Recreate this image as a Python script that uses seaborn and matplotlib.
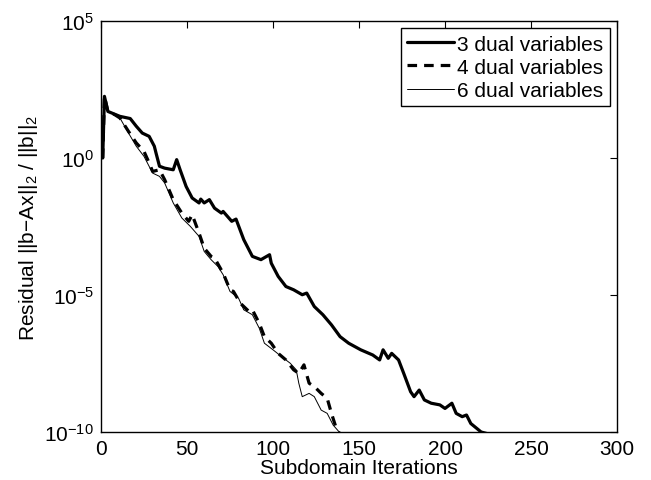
import numpy as np
import pandas as pd
import matplotlib
matplotlib.use("Agg")
import matplotlib.pyplot as plt
import matplotlib.ticker as mticker
import seaborn as sns

# ---- data (residual given as log10 exponent) ----
it_3 = [1, 2, 4, 11, 17, 20.5, 24, 28, 31, 32, 34, 37, 42, 44, 46, 49.5, 53, 57, 58, 60, 63,
        66, 70, 71, 76, 78.5, 83, 88, 93, 98, 99, 103, 107.5, 112, 117, 119.6, 124, 129, 134,
        139, 144, 151, 158, 162, 164, 167, 169, 173, 176, 180, 182, 185, 188, 192, 197, 200,
        204, 206.5, 210, 212.5, 215, 218.5, 221, 227]
log_3 = [0.0, 2.25, 1.70, 1.52, 1.44, 1.16, 0.91, 0.79, 0.43, 0.18, -0.30, -0.37, -0.43, -0.06,
         -0.43, -1.04, -1.46, -1.64, -1.50, -1.64, -1.52, -1.83, -2.01, -1.95, -2.31, -2.23,
         -2.98, -3.59, -3.71, -3.53, -3.84, -4.32, -4.69, -4.81, -4.99, -4.93, -5.42, -5.72,
         -6.09, -6.52, -6.76, -7.00, -7.19, -7.37, -7.00, -7.31, -7.13, -7.37, -7.86, -8.53,
         -8.71, -8.47, -8.83, -8.95, -9.01, -9.14, -8.95, -9.32, -9.44, -9.38, -9.69, -9.87,
         -10.0, -10.1]

it_4 = [1, 2, 4, 8, 11, 16, 20.5, 25, 28, 30, 34, 37, 42, 47, 51, 53, 57, 60, 64, 66, 71, 75,
        77, 81, 86, 88, 92, 95, 99, 103, 107.5, 112, 115, 118, 121, 124, 128, 131.5, 134,
        136.5, 140]
log_4 = [0.0, 2.25, 1.70, 1.58, 1.46, 0.97, 0.55, 0.24, -0.18, -0.49, -0.43, -0.79, -1.52,
         -2.01, -2.31, -2.07, -2.74, -3.29, -3.59, -3.65, -4.20, -4.81, -4.87, -5.30, -5.60,
         -5.54, -6.03, -6.52, -6.76, -7.13, -7.37, -7.73, -7.86, -7.55, -8.22, -8.34, -8.59,
         -8.77, -9.32, -9.81, -10.2]

it_6 = [1, 2, 4, 8, 11, 16, 20.5, 25, 30, 34, 37, 42, 47, 52, 57, 60, 64, 68, 71, 75, 80, 83,
        88, 92, 95, 100, 105, 110, 113.5, 115, 117, 121, 124, 128, 131.5, 135, 138.5, 140]
log_6 = [0.0, 2.25, 1.70, 1.58, 1.46, 0.91, 0.43, 0.06, -0.55, -0.67, -0.91, -1.64, -2.19,
         -2.50, -2.86, -3.41, -3.71, -3.96, -4.26, -4.87, -5.12, -5.54, -5.72, -6.21, -6.76,
         -7.00, -7.25, -7.49, -7.73, -8.22, -8.71, -8.59, -8.71, -9.20, -9.32, -9.75, -10.0,
         -10.2]

labels = ["3 dual variables", "4 dual variables", "6 dual variables"]
x_ticks = [0, 50, 100, 150, 200, 250, 300]
y_ticks = [1e-10, 1e-5, 1e0, 1e5]

# ---- style ----
sns.set_theme(style="white")
plt.rcParams["font.family"] = ["Liberation Sans", "DejaVu Sans"]
plt.rcParams["mathtext.fontset"] = "custom"
plt.rcParams["mathtext.rm"] = "Liberation Sans"
plt.rcParams["mathtext.it"] = "Liberation Sans"
plt.rcParams["mathtext.default"] = "regular"

fig = plt.figure(figsize=(6.51, 4.81), dpi=100)
ax = fig.add_axes([101 / 651, 1 - 433 / 481, (617 - 101) / 651, (433 - 22) / 481])

series = [(it_3, log_3, 2.3, "-"), (it_4, log_4, 2.3, (0, (3.0, 2.2))), (it_6, log_6, 0.7, "-")]
for (xs, ls, lw, style), lab in zip(series, labels):
    df = pd.DataFrame({"it": xs, "res": 10.0 ** np.array(ls)})
    sns.lineplot(data=df, x="it", y="res", ax=ax, color="black", linewidth=lw,
                 estimator=None, sort=False, label=lab, linestyle=style)

ax.set_yscale("log")
ax.set_xlim(0, 300)
ax.set_ylim(1e-10, 1e5)
ax.set_xticks(x_ticks)
ax.set_yticks(y_ticks)
ax.yaxis.set_major_formatter(mticker.FuncFormatter(
    lambda v, p: r"$10^{%d}$" % int(round(np.log10(v))) if v > 0 else ""))
ax.yaxis.set_minor_locator(mticker.NullLocator())
ax.tick_params(axis="both", which="major", direction="in", top=True, right=True,
               length=5, width=0.8, color="black", labelsize=15, pad=5, labelcolor="black")
for s in ax.spines.values():
    s.set_color("black")
    s.set_linewidth(1.0)

ax.set_xlabel("Subdomain Iterations", fontsize=15, labelpad=0, color="black")
ax.set_ylabel(r"Residual ||b−Ax||$_2$ / ||b||$_2$", fontsize=15, labelpad=3, color="black")

leg = ax.legend(loc="upper right", fontsize=15, frameon=True, fancybox=False,
                edgecolor="black", framealpha=1, handlelength=2.25, handletextpad=0.15,
                borderpad=0.3, labelspacing=0.2, borderaxespad=0.35)
leg.get_frame().set_linewidth(1.0)
for t in leg.get_texts():
    t.set_color("black")

fig.savefig("out.png", dpi=100, facecolor="white")
